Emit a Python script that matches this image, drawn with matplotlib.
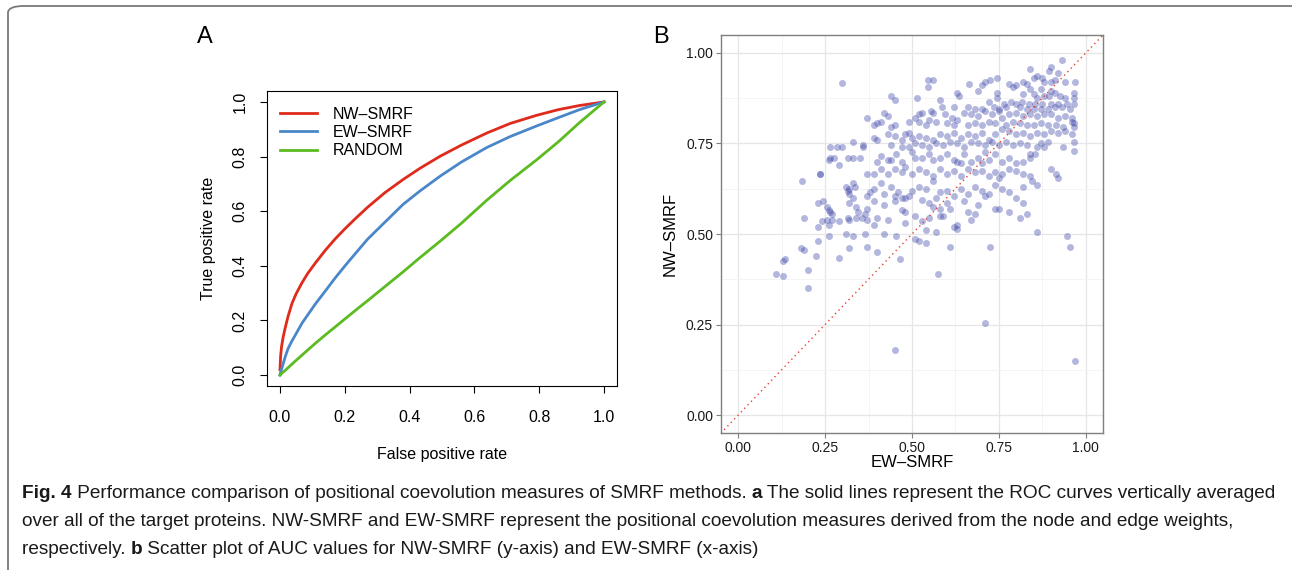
import matplotlib
matplotlib.use('Agg')
from matplotlib import pyplot as plt
from matplotlib.patches import FancyBboxPatch
import numpy as np

W, H = 1292, 570

# ---- panel A: vertically averaged ROC curves ----
fpr = [0, 0.002, 0.005, 0.01, 0.016, 0.025, 0.037, 0.05, 0.068, 0.085, 0.109, 0.14,
       0.17, 0.2, 0.232, 0.27, 0.324, 0.38, 0.432, 0.494, 0.56, 0.638, 0.71, 0.792,
       0.86, 0.925, 1.0]
tpr_nw = [0.02, 0.07, 0.105, 0.14, 0.172, 0.215, 0.262, 0.298, 0.338, 0.371, 0.41, 0.457,
          0.498, 0.535, 0.572, 0.614, 0.668, 0.716, 0.757, 0.801, 0.842, 0.886, 0.921, 0.951,
          0.972, 0.987, 1.0]
tpr_ew = [0.0, 0.01, 0.022, 0.042, 0.066, 0.097, 0.125, 0.152, 0.19, 0.219, 0.26, 0.308,
          0.355, 0.399, 0.444, 0.497, 0.56, 0.625, 0.674, 0.728, 0.78, 0.833, 0.873, 0.912,
          0.943, 0.972, 1.0]
tpr_rand = [0.0, 0.002, 0.006, 0.011, 0.017, 0.027, 0.04, 0.054, 0.073, 0.091, 0.116, 0.147,
            0.176, 0.205, 0.236, 0.272, 0.324, 0.378, 0.43, 0.49, 0.556, 0.64, 0.712, 0.788,
            0.855, 0.925, 1.0]
roc_labels = ['NW\u2013SMRF', 'EW\u2013SMRF', 'RANDOM']
roc_colors = ['#df2a1c', '#4a87c9', '#5cbb21']

# ---- panel B: AUC per target protein (EW-SMRF, NW-SMRF) ----
auc_pts = [
    # outliers / low region
    (0.30, 0.917), (0.11, 0.39), (0.13, 0.385), (0.135, 0.43), (0.13, 0.425),
    (0.20, 0.35), (0.20, 0.40), (0.18, 0.46), (0.19, 0.455), (0.185, 0.645),
    (0.19, 0.545), (0.225, 0.44), (0.23, 0.48), (0.235, 0.665), (0.23, 0.52),
    (0.29, 0.435), (0.45, 0.18), (0.71, 0.255), (0.97, 0.15), (0.575, 0.39),
    (0.37, 0.465), (0.40, 0.45), (0.465, 0.43), (0.61, 0.465), (0.725, 0.465),
    (0.86, 0.505), (0.945, 0.495), (0.955, 0.465), (0.51, 0.485), (0.52, 0.48),
    (0.54, 0.475), (0.54, 0.51), (0.57, 0.505), (0.42, 0.50), (0.455, 0.495),
    (0.31, 0.50), (0.33, 0.495), (0.32, 0.46), (0.365, 0.50), (0.26, 0.495),
    # 0.90 - 0.98
    (0.93, 0.98), (0.90, 0.96), (0.895, 0.95), (0.84, 0.955), (0.92, 0.945),
    (0.875, 0.93), (0.85, 0.93), (0.86, 0.935), (0.82, 0.92), (0.78, 0.915),
    (0.80, 0.91), (0.79, 0.905), (0.745, 0.93), (0.725, 0.925), (0.71, 0.92),
    (0.665, 0.915), (0.70, 0.91), (0.545, 0.925), (0.56, 0.925), (0.545, 0.905),
    (0.97, 0.92), (0.94, 0.92), (0.90, 0.92), (0.88, 0.92), (0.91, 0.925), (0.83, 0.915),
    # 0.85 - 0.90
    (0.69, 0.895), (0.745, 0.89), (0.63, 0.89), (0.635, 0.88), (0.91, 0.89),
    (0.90, 0.895), (0.87, 0.90), (0.84, 0.90), (0.85, 0.885), (0.82, 0.885),
    (0.965, 0.89), (0.965, 0.875), (0.94, 0.875), (0.925, 0.88), (0.895, 0.88),
    (0.88, 0.88), (0.86, 0.875), (0.745, 0.875), (0.72, 0.865), (0.765, 0.86),
    (0.785, 0.865), (0.80, 0.86), (0.815, 0.865), (0.835, 0.86), (0.855, 0.86),
    (0.875, 0.86), (0.90, 0.86), (0.92, 0.86), (0.945, 0.86), (0.965, 0.86),
    (0.44, 0.88), (0.45, 0.87), (0.515, 0.875), (0.58, 0.87), (0.585, 0.85),
    (0.555, 0.84), (0.53, 0.835), (0.52, 0.83), (0.66, 0.85), (0.62, 0.85),
    (0.68, 0.845), (0.70, 0.845), (0.735, 0.85), (0.75, 0.845), (0.77, 0.85),
    (0.81, 0.85), (0.83, 0.845), (0.85, 0.845), (0.87, 0.845), (0.89, 0.845),
    (0.91, 0.85), (0.93, 0.85), (0.955, 0.845),
    # 0.80 - 0.85
    (0.37, 0.82), (0.42, 0.835), (0.43, 0.825), (0.40, 0.805), (0.44, 0.795),
    (0.45, 0.80), (0.49, 0.81), (0.52, 0.81), (0.54, 0.80), (0.51, 0.82),
    (0.56, 0.835), (0.595, 0.83), (0.615, 0.82), (0.63, 0.815), (0.65, 0.835),
    (0.67, 0.83), (0.69, 0.825), (0.71, 0.84), (0.73, 0.83), (0.75, 0.84),
    (0.76, 0.82), (0.78, 0.83), (0.80, 0.835), (0.82, 0.825), (0.84, 0.83),
    (0.86, 0.825), (0.88, 0.83), (0.90, 0.83), (0.92, 0.82), (0.94, 0.825),
    (0.96, 0.82), (0.965, 0.805), (0.96, 0.81), (0.965, 0.795), (0.60, 0.805),
    (0.62, 0.80), (0.66, 0.80), (0.68, 0.805), (0.70, 0.80), (0.72, 0.81),
    (0.74, 0.805), (0.77, 0.80), (0.79, 0.81), (0.81, 0.805), (0.83, 0.80),
    (0.85, 0.80), (0.87, 0.805), (0.89, 0.80), (0.915, 0.80), (0.935, 0.795),
    (0.39, 0.80), (0.41, 0.81), (0.55, 0.815), (0.57, 0.81),
    # 0.75 - 0.80
    (0.30, 0.74), (0.285, 0.74), (0.265, 0.74), (0.33, 0.755), (0.36, 0.745),
    (0.36, 0.74), (0.39, 0.765), (0.40, 0.76), (0.43, 0.775), (0.45, 0.77),
    (0.47, 0.76), (0.48, 0.775), (0.49, 0.78), (0.50, 0.765), (0.52, 0.77),
    (0.54, 0.765), (0.56, 0.76), (0.58, 0.775), (0.60, 0.77), (0.62, 0.78),
    (0.64, 0.765), (0.66, 0.775), (0.68, 0.77), (0.70, 0.78), (0.72, 0.76),
    (0.74, 0.775), (0.76, 0.79), (0.78, 0.785), (0.80, 0.775), (0.82, 0.78),
    (0.84, 0.77), (0.86, 0.78), (0.88, 0.775), (0.90, 0.785), (0.92, 0.78),
    (0.94, 0.785), (0.96, 0.775), (0.965, 0.755), (0.965, 0.73), (0.935, 0.74),
    (0.88, 0.74), (0.86, 0.74), (0.84, 0.72), (0.855, 0.72), (0.44, 0.745),
    (0.47, 0.74), (0.49, 0.74), (0.51, 0.75), (0.53, 0.745), (0.55, 0.74),
    (0.57, 0.75), (0.59, 0.745), (0.61, 0.755), (0.63, 0.75), (0.65, 0.74),
    (0.67, 0.755), (0.69, 0.75), (0.71, 0.745), (0.73, 0.755), (0.75, 0.745),
    (0.77, 0.755), (0.79, 0.745), (0.81, 0.75), (0.83, 0.745), (0.87, 0.75), (0.89, 0.755),
    # 0.70 - 0.75
    (0.26, 0.705), (0.265, 0.71), (0.275, 0.71), (0.29, 0.69), (0.315, 0.71),
    (0.33, 0.71), (0.35, 0.71), (0.40, 0.70), (0.41, 0.715), (0.43, 0.705),
    (0.44, 0.705), (0.455, 0.72), (0.47, 0.70), (0.50, 0.725), (0.51, 0.71),
    (0.53, 0.71), (0.55, 0.72), (0.56, 0.705), (0.58, 0.71), (0.60, 0.72),
    (0.62, 0.705), (0.64, 0.695), (0.65, 0.72), (0.67, 0.70), (0.69, 0.71),
    (0.70, 0.695), (0.72, 0.705), (0.74, 0.72), (0.76, 0.70), (0.78, 0.71),
    (0.80, 0.695), (0.82, 0.70), (0.84, 0.71), (0.63, 0.70), (0.71, 0.725),
    # 0.65 - 0.70
    (0.235, 0.665), (0.37, 0.665), (0.39, 0.665), (0.41, 0.68), (0.43, 0.665),
    (0.45, 0.68), (0.47, 0.67), (0.48, 0.685), (0.50, 0.665), (0.52, 0.68),
    (0.54, 0.67), (0.56, 0.66), (0.58, 0.68), (0.60, 0.665), (0.62, 0.675),
    (0.64, 0.66), (0.66, 0.68), (0.68, 0.67), (0.70, 0.675), (0.72, 0.66),
    (0.74, 0.67), (0.76, 0.665), (0.78, 0.68), (0.80, 0.675), (0.82, 0.665),
    (0.84, 0.66), (0.90, 0.68), (0.915, 0.665), (0.92, 0.655), (0.845, 0.645), (0.75, 0.655),
    # 0.60 - 0.65
    (0.31, 0.63), (0.315, 0.62), (0.32, 0.625), (0.32, 0.61), (0.33, 0.64),
    (0.335, 0.63), (0.33, 0.60), (0.37, 0.605), (0.38, 0.615), (0.39, 0.625),
    (0.41, 0.64), (0.42, 0.61), (0.44, 0.63), (0.46, 0.615), (0.48, 0.60),
    (0.50, 0.62), (0.52, 0.63), (0.54, 0.625), (0.56, 0.645), (0.58, 0.615),
    (0.60, 0.62), (0.62, 0.605), (0.64, 0.625), (0.66, 0.61), (0.68, 0.63),
    (0.70, 0.62), (0.72, 0.61), (0.74, 0.635), (0.76, 0.625), (0.78, 0.615),
    (0.80, 0.60), (0.82, 0.63), (0.86, 0.635), (0.45, 0.605), (0.47, 0.60),
    (0.49, 0.605), (0.71, 0.605), (0.57, 0.60),
    # 0.55 - 0.60
    (0.23, 0.585), (0.245, 0.59), (0.255, 0.575), (0.26, 0.565), (0.265, 0.56),
    (0.27, 0.555), (0.32, 0.585), (0.34, 0.575), (0.345, 0.56), (0.365, 0.555),
    (0.37, 0.57), (0.39, 0.59), (0.42, 0.58), (0.45, 0.59), (0.47, 0.565),
    (0.48, 0.56), (0.53, 0.595), (0.55, 0.585), (0.56, 0.575), (0.58, 0.57),
    (0.60, 0.585), (0.61, 0.57), (0.65, 0.59), (0.66, 0.56), (0.68, 0.555),
    (0.69, 0.58), (0.74, 0.57), (0.75, 0.57), (0.78, 0.56), (0.82, 0.585),
    (0.83, 0.555), (0.58, 0.55), (0.59, 0.55), (0.81, 0.545),
    # 0.50 - 0.55
    (0.24, 0.535), (0.255, 0.54), (0.26, 0.525), (0.27, 0.54), (0.29, 0.535),
    (0.315, 0.545), (0.32, 0.54), (0.34, 0.545), (0.355, 0.545), (0.37, 0.54),
    (0.39, 0.525), (0.40, 0.545), (0.43, 0.54), (0.48, 0.53), (0.51, 0.55),
    (0.53, 0.535), (0.55, 0.545), (0.62, 0.52), (0.63, 0.525), (0.63, 0.515), (0.67, 0.54),
]
ew_auc = [p[0] for p in auc_pts]
nw_auc = [p[1] for p in auc_pts]
auc_ticks = [0.0, 0.25, 0.5, 0.75, 1.0]

plt.rcParams['font.family'] = ['Liberation Sans', 'DejaVu Sans']

fig = plt.figure(figsize=(W / 100, H / 100), dpi=100)

def px_axes(left, top, right, bottom):
  """ add axes from pixel box (origin top-left) """
  return fig.add_axes([left / W, (H - bottom) / H, (right - left) / W, (bottom - top) / H])

# outer frame (only left/top edges fall inside the picture)
frame = FancyBboxPatch((8 / W, -0.2), 1.2, 0.2 + (H - 6) / H,
                       boxstyle='round,pad=0,rounding_size=0.012',
                       transform=fig.transFigure, fill=False,
                       edgecolor='#7a7a7a', linewidth=1.3)
fig.patches.append(frame)

# ---- panel A ----
axA = px_axes(267, 91, 617, 386)
for y, lab, col in zip([tpr_nw, tpr_ew, tpr_rand], roc_labels, roc_colors):
  axA.plot(fpr, y, color=col, linewidth=2.0, label=lab, solid_joinstyle='round')
axA.set_xlim(-0.04, 1.04)
axA.set_ylim(-0.04, 1.04)
ticks = np.arange(0, 1.01, 0.2)
axA.set_xticks(ticks)
axA.set_yticks(ticks)
axA.set_xticklabels(['%.1f' % t for t in ticks], fontsize=11.5)
axA.set_yticklabels(['%.1f' % t for t in ticks], fontsize=11.5, rotation=90, va='center')
axA.tick_params(axis='x', length=5, width=0.8, pad=12)
axA.tick_params(axis='y', length=5, width=0.8, pad=9)
for s in axA.spines.values():
  s.set_linewidth(0.8)
axA.set_xlabel('False positive rate', fontsize=11.5, labelpad=16)
axA.set_ylabel('True positive rate', fontsize=11.5, labelpad=12)
axA.legend(loc='upper left', frameon=False, fontsize=11.5, handlelength=2.3,
           handletextpad=1.0, labelspacing=0.2, borderaxespad=0.4,
           bbox_to_anchor=(0.0, 0.99))
fig.text(197 / W, 1 - 37 / H, 'A', fontsize=17, va='center', ha='left')

# ---- panel B ----
axB = px_axes(720.7, 34.7, 1103.3, 433.3)
axB.set_xlim(-0.05, 1.05)
axB.set_ylim(-0.05, 1.05)
axB.set_xticks(auc_ticks)
axB.set_yticks(auc_ticks)
axB.set_xticks([0.125, 0.375, 0.625, 0.875], minor=True)
axB.set_yticks([0.125, 0.375, 0.625, 0.875], minor=True)
axB.set_xticklabels(['%.2f' % t for t in auc_ticks])
axB.set_yticklabels(['%.2f' % t for t in auc_ticks])
axB.grid(which='major', color='#e6e6e6', linewidth=0.9)
axB.grid(which='minor', color='#f3f3f3', linewidth=0.6)
axB.set_axisbelow(True)
axB.tick_params(which='minor', length=0)
axB.tick_params(which='major', length=3.5, width=0.8, color='#7f7f7f',
                labelsize=10, pad=2, labelcolor='#1a1a1a')
for s in axB.spines.values():
  s.set_color('#7f7f7f')
  s.set_linewidth(1.0)
axB.scatter(ew_auc, nw_auc, s=25, color='#3a43a6', alpha=0.38, linewidths=0, zorder=2)
axB.plot([-0.05, 1.05], [-0.05, 1.05], color='#e8402e', linestyle=(0, (1, 2.5)),
         linewidth=1.0, zorder=3)
axB.set_xlabel('EW\u2013SMRF', fontsize=12, labelpad=0)
axB.set_ylabel('NW\u2013SMRF', fontsize=12, labelpad=6)
fig.text(653 / W, 1 - 37 / H, 'B', fontsize=17, va='center', ha='left')

# ---- caption ----
cap_font = ['Liberation Sans Narrow', 'Liberation Sans', 'DejaVu Sans']
cap_lines = [
  [('Fig. 4', True), (' Performance comparison of positional coevolution measures of SMRF methods. ', False),
   ('a', True), (' The solid lines represent the ROC curves vertically averaged', False)],
  [('over all of the target proteins. NW-SMRF and EW-SMRF represent the positional coevolution '
    'measures derived from the node and edge weights,', False)],
  [('respectively. ', False), ('b', True),
   (' Scatter plot of AUC values for NW-SMRF (y-axis) and EW-SMRF (x-axis)', False)],
]
cap_y = [494, 522, 550]
cap_size = 13.65
fig.canvas.draw()
renderer = fig.canvas.get_renderer()
for line, y in zip(cap_lines, cap_y):
  x = 22
  for txt, bold in line:
    t = fig.text(x / W, 1 - y / H, txt, fontsize=cap_size, family=cap_font,
                 fontweight='bold' if bold else 'normal', va='center', ha='left',
                 color='#1a1a1a')
    bb = t.get_window_extent(renderer)
    x += bb.width

fig.savefig('out.png', dpi=100)
